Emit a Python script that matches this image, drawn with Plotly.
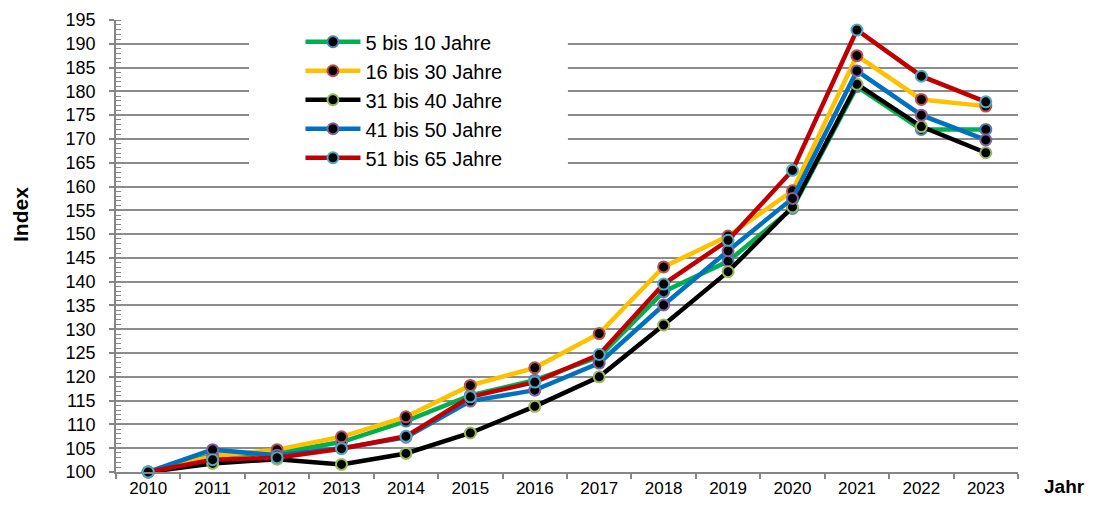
import plotly.graph_objects as go

years = [str(y) for y in range(2010, 2024)]
names = ["5 bis 10 Jahre", "16 bis 30 Jahre", "31 bis 40 Jahre", "41 bis 50 Jahre", "51 bis 65 Jahre"]

v_5_10 = [100, 103.5, 104.0, 106.3, 110.7, 116.1, 119.3, 124.2, 137.9, 144.3, 155.4, 181.0, 172.0, 172.0]
v_16_30 = [100, 103.3, 104.7, 107.4, 111.6, 118.2, 121.9, 129.1, 143.1, 149.6, 159.1, 187.5, 178.3, 176.9]
v_31_40 = [100, 101.8, 102.7, 101.6, 103.9, 108.2, 113.8, 120.0, 130.9, 142.1, 155.7, 181.5, 172.6, 167.1]
v_41_50 = [100, 104.7, 103.5, 105.0, 107.3, 114.9, 117.2, 122.9, 135.1, 146.5, 157.5, 184.3, 175.0, 169.8]
v_51_65 = [100, 102.6, 103.0, 104.9, 107.5, 115.8, 118.9, 124.7, 139.5, 148.7, 163.4, 192.9, 183.2, 177.8]

series = [v_5_10, v_16_30, v_31_40, v_41_50, v_51_65]
line_colors = ["#00B050", "#FFC000", "#000000", "#0070C0", "#C00000"]
marker_border = ["#4F81BD", "#C0504D", "#9BBB59", "#8064A2", "#4BACC6"]

fig = go.Figure()
for i, (nm, vals) in enumerate(zip(names, series)):
    fig.add_trace(go.Scatter(
        x=years, y=vals, name=nm, mode="lines+markers",
        line=dict(color=line_colors[i], width=4.5),
        marker=dict(color="#000000", size=11, line=dict(color=marker_border[i], width=2)),
        cliponaxis=False,
    ))

fig.update_layout(
    width=1077, height=492,
    margin=dict(l=108, r=67, t=12, b=28, autoexpand=False),
    paper_bgcolor="white", plot_bgcolor="white",
    font=dict(family="Liberation Sans, Arial, sans-serif", color="#000000", size=18),
    showlegend=True,
    legend=dict(
        x=0.2045, y=0.995, xanchor="left", yanchor="top",
        bgcolor="rgba(0,0,0,0)", font=dict(size=20),
        itemwidth=55,
    ),
    shapes=[dict(type="rect", xref="paper", yref="y", x0=0.1475, x1=0.501, y0=162.4, y1=193.3,
                 fillcolor="white", line=dict(width=0), layer="above")],
    xaxis=dict(
        type="category", range=[-0.5, 13.5], automargin=False,
        showline=True, linecolor="#868686", linewidth=1.5,
        ticks="outside", tickson="boundaries", ticklen=5, tickcolor="#868686", tickwidth=1.5,
        showgrid=False, tickfont=dict(size=17), ticklabelstandoff=0, fixedrange=True,
    ),
    yaxis=dict(
        range=[100, 195], dtick=5, tick0=100, automargin=False,
        showline=True, linecolor="#868686", linewidth=1.5,
        ticks="outside", ticklen=5, tickcolor="#868686", tickwidth=1.5,
        showgrid=True, gridcolor="#8C8C8C", gridwidth=1.5,
        minor=dict(ticks="inside", dtick=1, ticklen=5, tickcolor="#868686", tickwidth=1, showgrid=False),
        zeroline=False, tickfont=dict(size=18), ticklabelstandoff=10,
    ),
    annotations=[
        dict(text="<b>Jahr</b>", xref="paper", yref="paper", x=1.051, y=-0.031,
             xanchor="center", yanchor="middle", showarrow=False, font=dict(size=19)),
        dict(text="<b>Index</b>", xref="paper", yref="paper", x=-0.1053, y=0.5686,
             xanchor="center", yanchor="middle", textangle=-90, showarrow=False, font=dict(size=21)),
    ],
)

fig.write_html("out.html")
